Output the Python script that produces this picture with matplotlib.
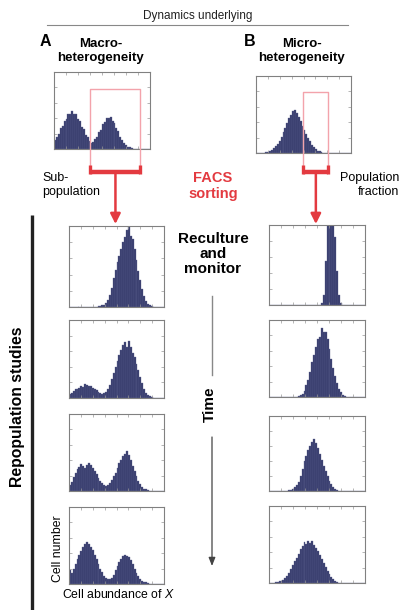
import numpy as np
import matplotlib
matplotlib.use("Agg")
import matplotlib.pyplot as plt

plt.rcParams["font.family"] = ["Liberation Sans", "DejaVu Sans"]
plt.rcParams["mathtext.fontset"] = "custom"
plt.rcParams["mathtext.rm"] = "Liberation Sans"
plt.rcParams["mathtext.it"] = "Liberation Sans:italic"

# histogram counts (50 bins each; axis top = 100)
top_A = [12, 16, 19, 27, 30, 37, 39, 45, 46, 49, 45, 45, 39, 36, 29, 26, 18, 15, 10, 8,
         9, 13, 15, 22, 25, 32, 35, 40, 40, 41, 36, 34, 27, 23, 16, 12, 8, 5, 3, 2,
         1, 0.5, 0.3, 0, 0, 0, 0, 0, 0, 0]
top_B = [0, 0, 0, 0, 0.5, 1, 1.5, 2.5, 4, 6, 9, 12, 16, 21, 27, 33, 39, 45, 50, 54,
         56, 52, 47, 41, 35, 30, 25, 20, 15, 11, 8, 5, 3, 2, 1, 0.5, 0, 0, 0, 0,
         0, 0, 0, 0, 0, 0, 0, 0, 0, 0]

macro_rows = [
    [0, 0, 0, 0, 0, 0, 0, 0, 0, 0, 0, 0, 0, 0, 0.5, 1, 1.5, 2, 3, 5,
     9, 15, 24, 36, 46, 55, 63, 72, 80, 86, 95, 104, 88, 84, 72, 58, 44, 33, 22, 14,
     8, 4, 2, 1, 0.5, 0, 0, 0, 0, 0],
    [5, 7, 9, 11, 12, 13, 15, 14, 18, 17, 16, 15, 13, 12, 10, 8, 7, 5, 6, 8,
     12, 17, 24, 32, 40, 47, 55, 62, 68, 72, 65, 73, 66, 58, 52, 44, 36, 27, 19, 12,
     7, 4, 2, 1, 0.5, 0, 0, 0, 0, 0],
    [8, 12, 18, 24, 28, 31, 35, 33, 30, 34, 36, 34, 30, 26, 22, 17, 13, 10, 8, 6,
     8, 10, 14, 19, 24, 30, 36, 40, 45, 48, 52, 47, 40, 33, 26, 19, 13, 9, 5, 3,
     2, 1, 0.5, 0.5, 0, 0, 0, 0, 0, 0],
    [18, 14, 20, 26, 32, 38, 43, 48, 52, 55, 52, 48, 44, 38, 32, 26, 20, 15, 11, 8,
     6, 6, 8, 12, 18, 24, 29, 33, 36, 38, 37, 35, 31, 26, 20, 14, 10, 7, 4, 3,
     2, 1, 0.5, 0, 0, 0, 0, 0, 0, 0],
]
micro_rows = [
    [0] * 27 + [2, 12, 55, 100, 140, 160, 130, 85, 42, 12, 2] + [0] * 12,
    [0] * 15 + [1, 2, 4, 8, 15, 22, 32, 45, 55, 65, 75, 78, 90, 84, 85, 75, 62, 50, 38,
                27, 18, 11, 6, 3, 1.5, 0.5] + [0] * 9,
    [0] * 9 + [0.5, 1, 2, 3, 5, 8, 12, 20, 30, 40, 47, 55, 60, 65, 70, 64, 58, 50, 42,
               34, 27, 20, 14, 9, 5, 3, 1.5, 0.5] + [0] * 13,
    [0] * 2 + [0.5, 1, 1.5, 2, 3, 4, 6, 9, 13, 18, 23, 28, 33, 38, 44, 48, 53, 51, 55,
               52, 54, 50, 46, 41, 36, 31, 26, 21, 16, 12, 8, 5, 3, 1.5, 0.5] + [0] * 13,
]

# sorting gates, in bins
gate_A = (19, 45)
gate_B = (25, 38)

W, H = 402, 610
RED = "#e33a40"
PINK = "#f3a3ab"
BAR = "#363b6b"

fig = plt.figure(figsize=(W / 100, H / 100), dpi=100)


def hist_axes(box, counts):
    x0, y0, x1, y1 = box
    ax = fig.add_axes([x0 / W, 1 - y1 / H, (x1 - x0) / W, (y1 - y0) / H])
    ax.bar(np.arange(len(counts)), counts, width=1, align="edge",
           color=BAR, edgecolor="#5e638f", linewidth=0.25)
    ax.set_xlim(0, len(counts))
    ax.set_ylim(0, 100)
    ax.set_xticks(np.linspace(0, len(counts), 9)[1:-1])
    ax.set_yticks(np.linspace(0, 100, 6)[1:-1])
    ax.tick_params(direction="in", length=2, width=0.5, color="#999999",
                   top=True, right=True, labelbottom=False, labelleft=False)
    for s in ax.spines.values():
        s.set_color("#808080")
        s.set_linewidth(0.8)
    return ax


top_boxes = [(54, 72, 150, 149), (256, 76, 351, 153)]
left_boxes = [(69, 226, 164, 307), (69, 320, 164, 398), (69, 414, 164, 491), (69, 507, 164, 584)]
right_boxes = [(269, 225, 365, 305), (269, 320, 365, 397), (269, 416, 365, 491), (269, 506, 365, 583)]

hist_axes(top_boxes[0], top_A)
hist_axes(top_boxes[1], top_B)
for box, c in zip(left_boxes, macro_rows):
    hist_axes(box, c)
for box, c in zip(right_boxes, micro_rows):
    hist_axes(box, c)

# overlay in pixel coordinates for annotations
ov = fig.add_axes([0, 0, 1, 1])
ov.set_xlim(0, W)
ov.set_ylim(H, 0)
ov.axis("off")


def gate(box, g, top_y, target_y, nbins=50):
    x0, _, x1, _ = box
    xl = x0 + g[0] / nbins * (x1 - x0)
    xr = x0 + g[1] / nbins * (x1 - x0)
    yb = 172
    ov.plot([xl, xl, xr, xr], [yb, top_y, top_y, yb], color=PINK, lw=1.0)
    ov.plot([xl, xr], [yb, yb], color=RED, lw=3.2, solid_capstyle="butt")
    ov.plot([xl, xl], [165, 174], color=RED, lw=2.4, solid_capstyle="butt")
    ov.plot([xr, xr], [165, 174], color=RED, lw=2.4, solid_capstyle="butt")
    xc = (xl + xr) / 2
    ov.annotate("", xy=(xc, target_y), xytext=(xc, yb),
                arrowprops=dict(arrowstyle="-|>,head_length=0.6,head_width=0.3",
                                color=RED, lw=1.8, shrinkA=0, shrinkB=0,
                                mutation_scale=10))


gate(top_boxes[0], gate_A, 89, 224)
gate(top_boxes[1], gate_B, 92, 224)

# header
ov.text(198, 16, "Dynamics underlying", ha="center", va="center", fontsize=8.5, color="#222222")
ov.plot([47, 348], [25, 25], color="#888888", lw=0.8)
ov.text(40, 42, "A", ha="left", va="center", fontsize=11.5, fontweight="bold")
ov.text(244, 42, "B", ha="left", va="center", fontsize=11.5, fontweight="bold")
ov.text(101, 51, "Macro-\nheterogeneity", ha="center", va="center", fontsize=9.5,
        fontweight="bold", linespacing=1.2)
ov.text(302, 51, "Micro-\nheterogeneity", ha="center", va="center", fontsize=9.5,
        fontweight="bold", linespacing=1.2)

ov.text(42, 185, "Sub-\npopulation", ha="left", va="center", fontsize=9, linespacing=1.15)
ov.text(399, 185, "Population\nfraction", ha="right", va="center", fontsize=9, linespacing=1.15)
ov.text(213, 186, "FACS\nsorting", ha="center", va="center", fontsize=10.5,
        fontweight="bold", color=RED, linespacing=1.15)

ov.text(213, 254, "Reculture\nand\nmonitor", ha="center", va="center", fontsize=11,
        fontweight="bold", linespacing=1.1)
ov.plot([212, 212], [296, 375], color="#888888", lw=1.0)
ov.text(210, 404, "Time", ha="center", va="center", rotation=90, fontsize=11, fontweight="bold")
ov.annotate("", xy=(212, 566), xytext=(212, 437),
            arrowprops=dict(arrowstyle="-|>,head_length=0.5,head_width=0.2",
                            color="#444444", lw=0.9, shrinkA=0, shrinkB=0))

ov.plot([32.5, 32.5], [215, 610], color="#222222", lw=2.4, solid_capstyle="butt")
ov.text(18, 407, "Repopulation studies", ha="center", va="center", rotation=90,
        fontsize=11.3, fontweight="bold")
ov.text(58, 549, "Cell number", ha="center", va="center", rotation=90, fontsize=8.8)
ov.text(118, 594, "Cell abundance of $\\mathit{X}$", ha="center", va="center", fontsize=8.8)

fig.savefig("out.png", dpi=100)
